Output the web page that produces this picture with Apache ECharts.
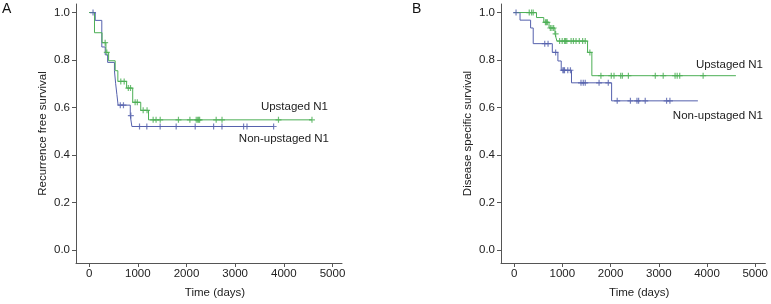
<!DOCTYPE html>
<html><head><meta charset="utf-8">
<script src="https://cdn.jsdelivr.net/npm/echarts@6/dist/echarts.min.js"></script>
<style>html,body{margin:0;padding:0;background:#fff}#c{width:771px;height:304px}</style>
</head><body><div id="c"></div>
<script>
// Panel A: Recurrence free survival
var aUpT = [0,110,265,345,400,535,590,770,895,1060,1220,4578];
var aUpS = [1,0.915,0.873,0.832,0.797,0.755,0.71,0.682,0.622,0.588,0.548,0.548];
var aUpCensor = [329,363,650,720,805,850,945,990,1110,1190,1315,1375,1460,1835,2070,2200,2230,2250,2270,2610,2730,3890,4578];
var aNonT = [0,125,260,330,380,520,545,570,595,845,878,3790];
var aNonS = [1,0.967,0.855,0.822,0.79,0.755,0.70,0.655,0.61,0.566,0.52,0.52];
var aNonCensor = [80,640,705,857,1035,1185,1459,1788,2179,2557,2729,3173,3243,3790];
// Panel B: Disease specific survival
var bUpT = [0,464,615,724,847,888,1523,1612,4600];
var bUpS = [1,0.979,0.959,0.935,0.91,0.88,0.832,0.734,0.734];
var bUpCensor = [314,362,396,649,670,690,751,785,820,861,943,997,1045,1066,1093,1182,1230,1284,1352,1421,1475,1571,1800,2015,2072,2210,2245,2370,2928,3092,3338,3382,3434,3920];
var bNonT = [0,123,342,396,792,908,977,1190,2022,3811];
var bNonS = [1,0.968,0.935,0.869,0.832,0.796,0.757,0.704,0.628,0.628];
var bNonCensor = [40,635,704,861,1011,1030,1045,1113,1168,1387,1434,1475,1762,1953,2138,2412,2548,2582,2719,3162,3231];

var xTicks = [0,1000,2000,3000,4000,5000];
var yTicks = [0,0.2,0.4,0.6,0.8,1.0];
var seriesNames = ['Upstaged N1','Non-upstaged N1'];
var yTitles = ['Recurrence free survival','Disease specific survival'];
var panelLetters = ['A','B'];

var GREEN = '#4caf55', BLUE = '#5561ad';
var FONT = '"Liberation Sans", Arial, Helvetica, sans-serif';

function steps(T,S){ return T.map(function(t,i){return [t,S[i]];}); }
function censorPts(T,S,C){
  return C.map(function(c){
    var s = S[0];
    for (var i=0;i<T.length;i++){ if (T[i] <= c) s = S[i]; }
    return [c,s];
  });
}
var plus = 'path://M4,0h2v4h4v2h-4v4h-2v-4h-4v-2h4z';

function xAx(idx,min,max){
  return {gridIndex:idx,type:'value',min:min,max:max,
    name:'Time (days)',nameLocation:'middle',nameGap:24,
    nameTextStyle:{fontFamily:FONT,fontSize:11.5,color:'#222',padding:[0,0,0,12]},
    axisLine:{show:true,onZero:false,lineStyle:{color:'#555',width:1}},
    axisTick:{show:true,length:4,customValues:xTicks,lineStyle:{color:'#555'}},
    axisLabel:{customValues:xTicks,fontFamily:FONT,fontSize:11.5,color:'#222',margin:5,
      formatter:function(v){return String(v);}},
    splitLine:{show:false}};
}
function yAx(idx){
  return {gridIndex:idx,type:'value',min:-0.055,max:1.036,
    name:yTitles[idx],nameLocation:'middle',nameGap:27,
    nameTextStyle:{fontFamily:FONT,fontSize:11.5,color:'#222'},
    axisLine:{show:true,onZero:false,lineStyle:{color:'#555',width:1}},
    axisTick:{show:true,length:4,customValues:yTicks,lineStyle:{color:'#555'}},
    axisLabel:{customValues:yTicks,fontFamily:FONT,fontSize:11.5,color:'#222',margin:6,
      formatter:function(v){return v.toFixed(1);}},
    splitLine:{show:false}};
}
function lineS(idx,name,data,color){
  return {type:'line',name:name,xAxisIndex:idx,yAxisIndex:idx,step:'end',data:data,
    symbol:'none',lineStyle:{color:color,width:1},silent:true,z:2};
}
function censS(idx,name,data,color){
  return {type:'scatter',name:name,xAxisIndex:idx,yAxisIndex:idx,data:data,
    symbol:plus,symbolSize:6,itemStyle:{color:color},silent:true,z:3};
}

var chart = echarts.init(document.getElementById('c'),null,{renderer:'canvas'});
chart.setOption({
  animation:false,
  grid:[{left:76,right:429,top:4,bottom:37},{left:501,right:3,top:4,bottom:37}],
  xAxis:[xAx(0,-270,5195),xAx(1,-272,5211)],
  yAxis:[yAx(0),yAx(1)],
  series:[
    lineS(0,seriesNames[1],steps(aNonT,aNonS),BLUE),
    lineS(0,seriesNames[0],steps(aUpT,aUpS),GREEN),
    censS(0,seriesNames[1],censorPts(aNonT,aNonS,aNonCensor),BLUE),
    censS(0,seriesNames[0],censorPts(aUpT,aUpS,aUpCensor),GREEN),
    lineS(1,seriesNames[1],steps(bNonT,bNonS),BLUE),
    lineS(1,seriesNames[0],steps(bUpT,bUpS),GREEN),
    censS(1,seriesNames[1],censorPts(bNonT,bNonS,bNonCensor),BLUE),
    censS(1,seriesNames[0],censorPts(bUpT,bUpS,bUpCensor),GREEN)
  ],
  graphic:[
    {type:'text',left:2,top:2,style:{text:panelLetters[0],font:'14px '+FONT,fill:'#111'}},
    {type:'text',left:412,top:2,style:{text:panelLetters[1],font:'14px '+FONT,fill:'#111'}},
    {type:'text',x:328,y:107,style:{text:seriesNames[0],font:'11.5px '+FONT,fill:'#222',align:'right',verticalAlign:'middle'}},
    {type:'text',x:329,y:139,style:{text:seriesNames[1],font:'11.5px '+FONT,fill:'#222',align:'right',verticalAlign:'middle'}},
    {type:'text',x:763,y:65,style:{text:seriesNames[0],font:'11.5px '+FONT,fill:'#222',align:'right',verticalAlign:'middle'}},
    {type:'text',x:763,y:116,style:{text:seriesNames[1],font:'11.5px '+FONT,fill:'#222',align:'right',verticalAlign:'middle'}}
  ]
});
</script>
</body></html>
